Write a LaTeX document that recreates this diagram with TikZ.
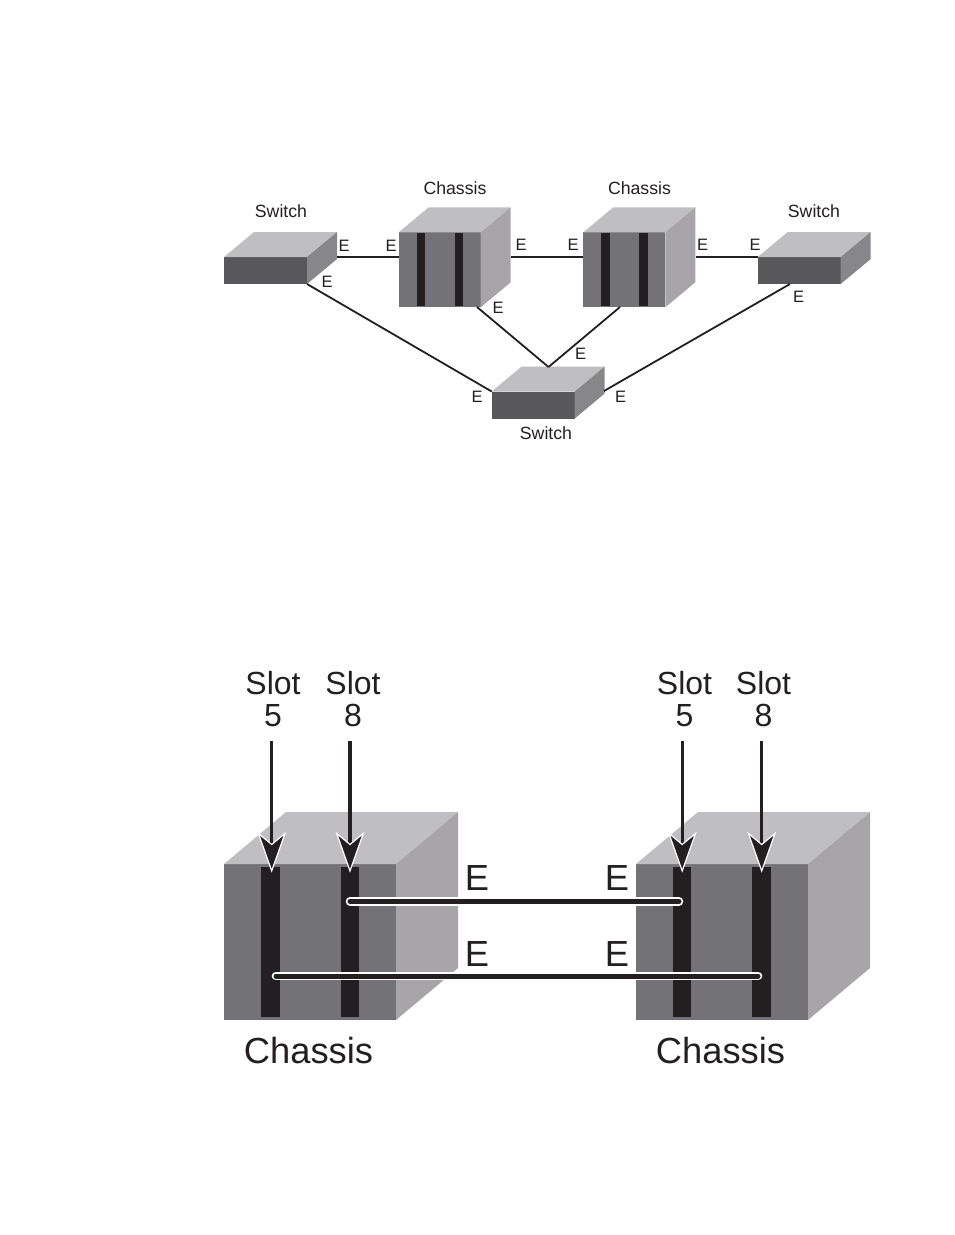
\documentclass[tikz,border=0pt]{standalone}
\usepackage{fontspec}
\setmainfont{Liberation Sans}
\usetikzlibrary{positioning,arrows.meta}
\definecolor{inkblack}{HTML}{231F20}
\definecolor{swfrontgray}{HTML}{58585B}
\definecolor{swsidegray}{HTML}{87878A}
\definecolor{chfrontgray}{HTML}{737276}
\definecolor{chsidegray}{HTML}{A7A5A8}
\definecolor{topgray}{HTML}{BFBFC1}
\begin{document}
\begin{tikzpicture}[
x=1pt, y=-1pt,
swfront/.style={rectangle, fill=swfrontgray, minimum width=83pt, minimum height=27pt, inner sep=0pt, outer sep=0pt},
chfront/.style={rectangle, fill=chfrontgray, minimum width=82pt, minimum height=75pt, inner sep=0pt, outer sep=0pt},
bigfront/.style={rectangle, fill=chfrontgray, minimum width=172pt, minimum height=156pt, inner sep=0pt, outer sep=0pt},
bar/.style={rectangle, fill=inkblack, minimum width=8.5pt, minimum height=73pt, inner sep=0pt, outer sep=0pt},
bigbar/.style={rectangle, fill=inkblack, minimum width=18.5pt, minimum height=150pt, inner sep=0pt, outer sep=0pt},
topface/.style={fill=topgray},
swside/.style={fill=swsidegray},
chside/.style={fill=chsidegray},
link/.style={draw=inkblack, line width=1.8pt},
small/.style={inkblack, inner sep=0pt, font=\fontsize{17.7}{20}\selectfont},
portsmall/.style={inkblack, inner sep=0pt, font=\fontsize{16.5}{20}\selectfont},
big/.style={inkblack, inner sep=0pt, font=\fontsize{36.3}{40}\selectfont},
slotlabel/.style={inkblack, inner sep=0pt, align=center, font=\fontsize{32}{32}\selectfont},
cable/.style={draw=white, line width=8.6pt, line cap=round},
cablecore/.style={draw=inkblack, line width=5pt, line cap=round},
slotarrow/.style={draw=inkblack, line width=3.4pt, -{Stealth[length=41pt, width=29pt, inset=12pt, color=white, fill=inkblack, line width=1.2pt]}},
]
\useasboundingbox (0,0) rectangle (954,1235);

%Upper boxes
\node[swfront] (swl) at (265.5,270.5) {};
\node[chfront] (ch1) at (439.7,269.8) {};
\node[chfront] (ch2) [right=102.6pt of ch1] {};
\node[swfront] (swr) at (799.2,270.5) {};
\node[swfront] (swb) at (533.2,405) {};

%Upper box faces
\fill[topface] (swl.north west) -- ++(30,-25) -- ++(83,0) -- ++(-30,25) -- cycle;
\fill[swside] (swl.north east) -- ++(30,-25) -- ++(0,27) -- ++(-30,25) -- cycle;
\fill[topface] (swr.north west) -- ++(30,-25) -- ++(83,0) -- ++(-30,25) -- cycle;
\fill[swside] (swr.north east) -- ++(30,-25) -- ++(0,27) -- ++(-30,25) -- cycle;
\fill[topface] (swb.north west) -- ++(30,-25) -- ++(83,0) -- ++(-30,25) -- cycle;
\fill[swside] (swb.north east) -- ++(30,-25) -- ++(0,27) -- ++(-30,25) -- cycle;
\fill[topface] (ch1.north west) -- ++(30,-25) -- ++(82,0) -- ++(-30,25) -- cycle;
\fill[chside] (ch1.north east) -- ++(30,-25) -- ++(0,75) -- ++(-30,25) -- cycle;
\fill[topface] (ch2.north west) -- ++(30,-25) -- ++(82,0) -- ++(-30,25) -- cycle;
\fill[chside] (ch2.north east) -- ++(30,-25) -- ++(0,75) -- ++(-30,25) -- cycle;

%Upper slots
\node[bar] (ch1a) at (421,269.8) {};
\node[bar] (ch1b) [right=29.7pt of ch1a] {};
\node[bar] (ch2a) at (605.5,269.8) {};
\node[bar] (ch2b) [right=29.7pt of ch2a] {};

%Port points
\coordinate (swl_e) at (337,257);
\coordinate (ch1_w) at (399,257);
\coordinate (ch1_e) at (511,257);
\coordinate (ch2_w) at (583,257);
\coordinate (ch2_e) at (696,257);
\coordinate (swr_w) at (758,257);
\coordinate (ch1_s) at (477,307);
\coordinate (ch2_s) at (620,307);
\coordinate (swr_s) at (790,284);
\coordinate (swb_n) at (548.5,367);
\coordinate (swb_e) at (604,391);

%Links
\draw[link] (swl_e) -- (ch1_w);
\draw[link] (ch1_e) -- (ch2_w);
\draw[link] (ch2_e) -- (swr_w);
\draw[link] (swl.south east) -- (swb.north west);
\draw[link] (ch1_s) -- (swb_n);
\draw[link] (ch2_s) -- (swb_n);
\draw[link] (swr_s) -- (swb_e);

%Upper labels
\node[small] (lbl_swl) at (281,211) {Switch};
\node[small] (lbl_ch1) at (455,188) {Chassis};
\node[small] (lbl_ch2) at (639.5,188) {Chassis};
\node[small] (lbl_swr) at (814,211) {Switch};
\node[small] (lbl_swb) at (546,433) {Switch};
\node[portsmall] (e1) at (344,246) {E};
\node[portsmall] (e2) at (391,246) {E};
\node[portsmall] (e3) at (521,245) {E};
\node[portsmall] (e4) at (573,245) {E};
\node[portsmall] (e5) at (702.500,245) {E};
\node[portsmall] (e6) at (755,245) {E};
\node[portsmall] (e7) at (327,282) {E};
\node[portsmall] (e8) at (798.500,297) {E};
\node[portsmall] (e9) at (498,308) {E};
\node[portsmall] (e10) at (580.500,354) {E};
\node[portsmall] (e11) at (477,397) {E};
\node[portsmall] (e12) at (620.500,397) {E};

%Lower chassis
\node[bigfront] (left) at (310,942) {};
\node[bigfront] (right) [right=240pt of left] {};
\fill[topface] (left.north west) -- ++(62,-52) -- ++(172,0) -- ++(-62,52) -- cycle;
\fill[chside] (left.north east) -- ++(62,-52) -- ++(0,156) -- ++(-62,52) -- cycle;
\fill[topface] (right.north west) -- ++(62,-52) -- ++(172,0) -- ++(-62,52) -- cycle;
\fill[chside] (right.north east) -- ++(62,-52) -- ++(0,156) -- ++(-62,52) -- cycle;

%Lower slots
\node[bigbar] (lefta) at (270.5,941.7) {};
\node[bigbar] (leftb) [right=61pt of lefta] {};
\node[bigbar] (righta) at (682.2,941.7) {};
\node[bigbar] (rightb) [right=61pt of righta] {};

%Cable ends
\coordinate (cab1_l) at (350,901.3);
\coordinate (cab1_r) at (679,901.3);
\coordinate (cab2_l) at (276,976);
\coordinate (cab2_r) at (758,976);

%Cables
\draw[cable] (cab1_l) -- (cab1_r);
\draw[cablecore] (cab1_l) -- (cab1_r);
\draw[cable] (cab2_l) -- (cab2_r);
\draw[cablecore] (cab2_l) -- (cab2_r);

%Slot labels and arrows
\node[slotlabel] (s5l) at (273,699) {Slot\\5};
\node[slotlabel] (s8l) at (353,699) {Slot\\8};
\node[slotlabel] (s5r) at (684.500,699) {Slot\\5};
\node[slotlabel] (s8r) at (763.500,699) {Slot\\8};
\draw[slotarrow] ([xshift=1.2pt,yshift=-14pt]s5l.south -| lefta.north) -- ([xshift=1.2pt,yshift=-6pt]lefta.north);
\draw[slotarrow] ([yshift=-14pt]s8l.south -| leftb.north) -- ([yshift=-6pt]leftb.north);
\draw[slotarrow] ([yshift=-14pt]s5r.south -| righta.north) -- ([yshift=-6pt]righta.north);
\draw[slotarrow] ([yshift=-14pt]s8r.south -| rightb.north) -- ([yshift=-6pt]rightb.north);

%Lower labels
\node[big] (e_a) at (477,878) {E};
\node[big] (e_b) at (617,878) {E};
\node[big] (e_c) at (477,954) {E};
\node[big] (e_d) at (617,954) {E};
\node[big] (lbl_left) at (308.500,1051) {Chassis};
\node[big] (lbl_right) at (720.500,1051) {Chassis};
\end{tikzpicture}
\end{document}
